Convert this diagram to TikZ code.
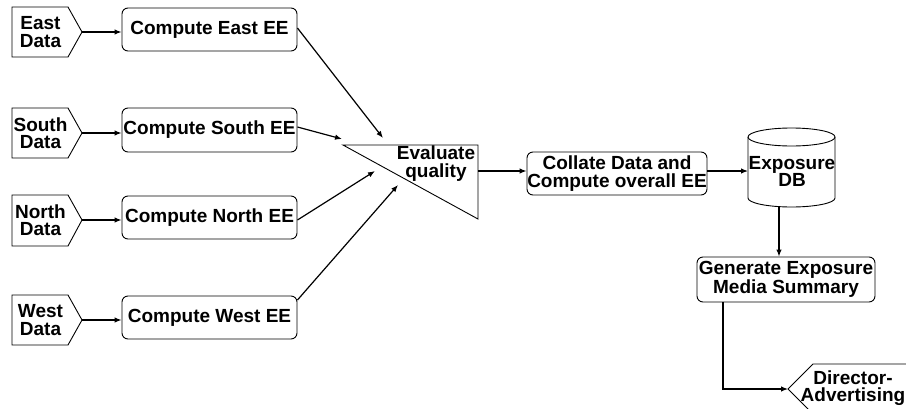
\documentclass[tikz,border=0pt]{standalone}
\usepackage{fontspec}
\setmainfont{Liberation Sans}
\usetikzlibrary{arrows.meta}
\tikzset{
  lbl/.style={font=\bfseries\fontsize{19}{17.5}\selectfont, align=center, inner sep=0pt},
  proc/.style={lbl, draw, line width=0.9pt, rounded corners=6pt, minimum width=175pt, minimum height=43pt},
  outline/.style={draw, line width=0.9pt, line join=miter},
  arr/.style={line width=1.2pt, -{Latex[length=7pt,width=5.5pt]}},
}
\begin{document}
\begin{tikzpicture}[x=1pt,y=1pt]
\useasboundingbox (0,0) rectangle (906,-408);
\clip (0,0) rectangle (906,-408);

% data sources (pointed tags)
\foreach \nm/\tx/\ty/\tb/\tt in {ed/East/7/57/32, sd/South/108/158/133, nd/North/195/246/220, wd/West/295/345/320}{
  \draw[outline] (12,-\ty) -- (68,-\ty) -- (82,-\tt) -- (68,-\tb) -- (12,-\tb) -- cycle;
  \coordinate (\nm) at (82,-\tt);
  \node[lbl] (\nm txt) at (40.5,-\tt) {\tx\\Data};
}

% regional computations
\node[proc] (ce) at (209.5,-29.5) {Compute East EE};
\node[proc, minimum height=44pt] (cs) at (209.5,-130) {Compute South EE};
\node[proc] (cn) at (209.5,-217.5) {Compute North EE};
\node[proc] (cw) at (209.5,-317.5) {Compute West EE};

\foreach \d/\c in {ed/ce, sd/cs, nd/cn, wd/cw}
  \draw[arr] (\d) -- (\d -| \c.west);

% quality evaluation
\draw[outline] (343,-145) -- (478,-145) -- (478,-219) -- cycle;
\node[lbl] (eval) at (436,-163.5) {Evaluate\\quality};
\coordinate (inE) at (383,-138);
\coordinate (inS) at (342,-139);
\coordinate (inN) at (375,-171);
\coordinate (inW) at (398,-185);
\coordinate (evout) at (478,-171);

\draw[arr] ([yshift=1.5pt]ce.east) -- (inE);
\draw[arr] ([yshift=3pt]cs.east) -- (inS);
\draw[arr] ([yshift=-2.5pt]cn.east) -- (inN);
\draw[arr] ([yshift=17.5pt]cw.east) -- (inW);

% collation
\node[proc, minimum width=180pt] (col) at (617,-173.5) {Collate Data and\\Compute overall EE};
\draw[arr] (evout) -- (evout -| col.west);

% exposure database
\draw[outline] (748,-137) -- (748,-198) arc (180:360:43.5 and 9) -- (835,-137) arc (0:180:43.5 and 9) -- cycle;
\draw[outline] (748,-137) arc (180:360:43.5 and 9);
\node[lbl] (db) at (792,-171.5) {Exposure\\DB};
\coordinate (dbin) at (748,-171);
\coordinate (dbbot) at (779,-206.6);
\draw[arr] ([yshift=2.5pt]col.east) -- (dbin);

% summary
\node[proc, minimum width=178pt, minimum height=45pt] (gen) at (786,-279.5) {Generate Exposure\\Media Summary};
\draw[arr] (dbbot) -- (dbbot |- gen.north);

% recipient
\coordinate (dtip) at (788,-389);
\draw[outline] (950,-364) -- (813,-364) -- (dtip) -- (813,-414) -- (950,-414);
\node[lbl] (dir) at (853,-388) {Director-\\Advertising};
\draw[arr] ([xshift=-63pt]gen.south) |- (dtip);
\end{tikzpicture}
\end{document}
